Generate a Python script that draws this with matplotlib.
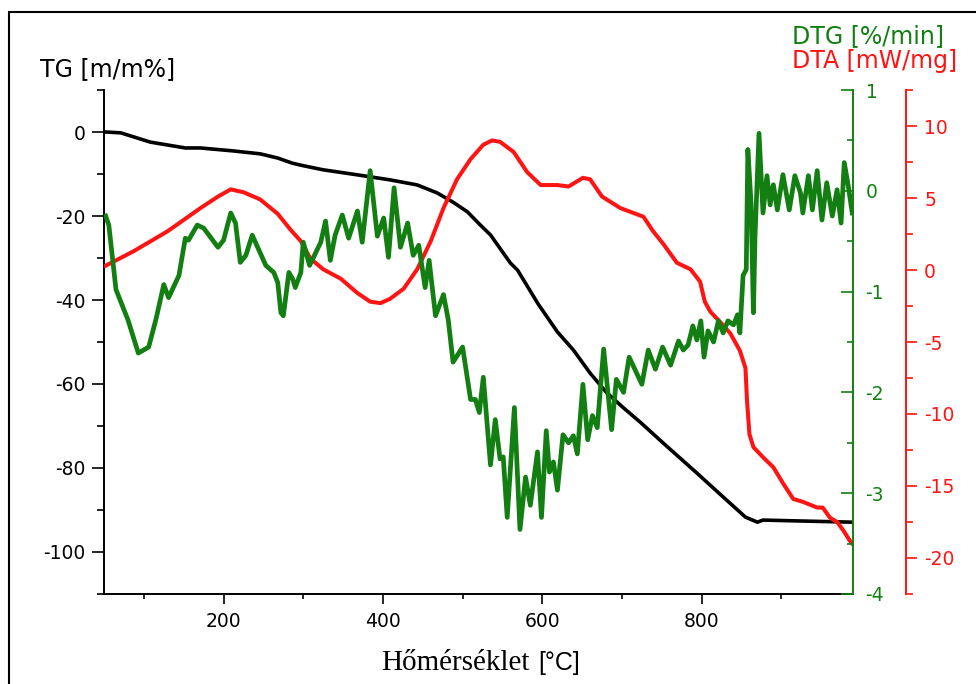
import matplotlib.pyplot as plt
from matplotlib.ticker import MultipleLocator
from matplotlib.patches import Rectangle

plt.rcParams['axes.unicode_minus'] = False
plt.rcParams['font.family'] = 'DejaVu Sans'

# TG curve (mass change, m/m%)
tg_temp = [52, 71, 108, 130, 152, 171, 212, 246, 268, 286, 297, 325, 368, 409,
           443, 468, 488, 506, 522, 535, 560, 569, 595, 619, 639, 660, 681, 702,
           723, 752, 794, 827, 855, 870, 877, 920, 989]
tg_mass = [0, -0.2, -2.4, -3.1, -3.8, -3.8, -4.5, -5.2, -6.2, -7.4, -7.9, -9.0,
           -10.2, -11.4, -12.6, -14.5, -16.7, -19.0, -22.1, -24.5, -31.2, -32.9,
           -41.0, -47.6, -51.9, -57.4, -62.1, -65.7, -69.1, -74.1, -81.2, -86.9,
           -91.7, -92.9, -92.4, -92.6, -92.9]

# DTA curve (mW/mg)
dta_temp = [52, 87, 130, 171, 193, 209, 225, 246, 268, 284, 297, 309, 325, 347,
            368, 384, 397, 409, 426, 443, 460, 476, 493, 510, 526, 537, 547, 564,
            581, 598, 619, 633, 651, 660, 675, 698, 727, 739, 752, 769, 786, 798,
            804, 811, 823, 836, 848, 855, 857, 860, 865, 877, 890, 902, 915, 927,
            936, 945, 952, 961, 970, 978, 986, 989]
dta_val = [0.3, 1.3, 2.7, 4.3, 5.1, 5.6, 5.4, 4.9, 3.9, 2.8, 2.0, 0.8, 0.05, -0.6,
           -1.6, -2.2, -2.3, -2.0, -1.3, 0.05, 2.0, 4.3, 6.3, 7.7, 8.7, 9.0, 8.9,
           8.2, 6.8, 5.9, 5.9, 5.8, 6.4, 6.3, 5.1, 4.3, 3.7, 2.7, 1.8, 0.5, 0.05,
           -0.8, -2.2, -2.9, -3.6, -4.4, -5.6, -6.8, -9.1, -11.4, -12.3, -13.0,
           -13.7, -14.8, -15.9, -16.1, -16.3, -16.5, -16.5, -17.2, -17.5, -18.1,
           -18.8, -19.0]

# DTG curve (%/min)
dtg_temp = [52, 56, 65, 80, 93, 106, 115, 125, 131, 144, 152, 156, 167, 175,
            193, 200, 209, 215, 221, 228, 236, 244, 253, 263, 268, 272, 275, 282,
            287, 290, 297, 300, 308, 322, 328, 334, 340, 349, 357, 368, 374, 384,
            393, 401, 407, 414, 422, 431, 438, 445, 453, 458, 466, 476, 482, 488,
            500, 510, 516, 521, 526, 535, 541, 547, 551, 556, 565, 572, 579, 585,
            594, 599, 605, 609, 614, 619, 626, 633, 639, 644, 651, 657, 663, 669,
            677, 687, 693, 702, 709, 725, 733, 742, 751, 761, 771, 777, 783, 789,
            794, 799, 803, 808, 815, 821, 827, 833, 840, 845, 848, 852, 856, 858,
            862, 865, 867, 872, 877, 882, 886, 890, 895, 902, 910, 917, 924, 927,
            934, 939, 945, 951, 957, 964, 970, 975, 979, 984, 989]
dtg_val = [-0.25, -0.34, -0.98, -1.28, -1.61, -1.55, -1.28, -0.93, -1.06, -0.84,
           -0.47, -0.49, -0.34, -0.37, -0.56, -0.49, -0.22, -0.32, -0.71, -0.64,
           -0.44, -0.58, -0.74, -0.81, -0.91, -1.21, -1.24, -0.81, -0.88, -0.96,
           -0.81, -0.51, -0.74, -0.51, -0.30, -0.69, -0.44, -0.24, -0.47, -0.20,
           -0.51, 0.20, -0.45, -0.27, -0.66, 0.03, -0.56, -0.32, -0.64, -0.54,
           -0.96, -0.69, -1.24, -1.03, -1.28, -1.70, -1.55, -2.07, -2.07, -2.20,
           -1.85, -2.72, -2.27, -2.66, -2.64, -3.24, -2.15, -3.36, -2.84, -3.12,
           -2.59, -3.24, -2.38, -2.79, -2.69, -2.97, -2.42, -2.50, -2.43, -2.61,
           -1.92, -2.47, -2.23, -2.35, -1.57, -2.37, -1.87, -2.00, -1.65, -1.92,
           -1.58, -1.77, -1.55, -1.73, -1.49, -1.58, -1.53, -1.34, -1.48, -1.29,
           -1.65, -1.39, -1.50, -1.29, -1.41, -1.29, -1.33, -1.23, -1.41, -0.84,
           -0.78, 0.41, -0.12, -1.21, -0.45, 0.57, -0.22, 0.15, -0.14, 0.06,
           -0.19, 0.16, -0.19, 0.15, -0.02, -0.22, 0.15, -0.19, 0.20, -0.29,
           0.08, -0.25, 0.01, -0.32, 0.28, 0.05, -0.22]

green = '#137f13'
red = '#ff1414'

fig = plt.figure(figsize=(9.76, 6.84), dpi=100)
ax = fig.add_axes([0.1066, 0.1316, 0.7674, 0.7368])
ax_dta = ax.twinx()
ax_dtg = ax.twinx()

ax.plot(tg_temp, tg_mass, color='black', lw=2.6, solid_joinstyle='round')
ax_dta.plot(dta_temp, dta_val, color=red, lw=2.9, solid_joinstyle='round')
ax_dtg.plot(dtg_temp, dtg_val, color=green, lw=3.4, solid_joinstyle='round')

# main axis (TG)
ax.set_xlim(50, 990)
ax.set_ylim(-110, 10)
ax.spines[['top', 'right']].set_visible(False)
for s in ['left', 'bottom']:
    ax.spines[s].set_linewidth(1.4)
ax.xaxis.set_major_locator(MultipleLocator(200))
ax.xaxis.set_minor_locator(MultipleLocator(100))
ax.yaxis.set_major_locator(MultipleLocator(20))
ax.yaxis.set_minor_locator(MultipleLocator(10))
ax.tick_params(axis='both', which='major', direction='out', width=1.2,
               labelsize=13.5)
ax.tick_params(axis='y', which='major', length=8.5, pad=5)
ax.tick_params(axis='y', which='minor', length=5, width=1.2)
ax.tick_params(axis='x', which='major', length=7, pad=6)
ax.tick_params(axis='x', which='minor', length=3.6, width=1.2)

# DTA axis, offset to the right
ax_dta.set_ylim(-22.5, 12.5)
for s in ['left', 'top', 'bottom']:
    ax_dta.spines[s].set_visible(False)
ax_dta.spines['right'].set_position(('axes', 1.0708))
ax_dta.spines['right'].set_color(red)
ax_dta.spines['right'].set_linewidth(1.4)
ax_dta.yaxis.set_major_locator(MultipleLocator(5))
ax_dta.yaxis.set_minor_locator(MultipleLocator(2.5))
ax_dta.tick_params(axis='y', which='both', direction='out', colors=red,
                   width=1.2, labelsize=13.5)
ax_dta.tick_params(axis='y', which='major', length=8, pad=5)
ax_dta.tick_params(axis='y', which='minor', length=5)

# DTG axis
ax_dtg.set_ylim(-4, 1)
for s in ['left', 'top', 'bottom']:
    ax_dtg.spines[s].set_visible(False)
ax_dtg.spines['right'].set_color(green)
ax_dtg.spines['right'].set_linewidth(1.4)
ax_dtg.yaxis.set_major_locator(MultipleLocator(1))
ax_dtg.yaxis.set_minor_locator(MultipleLocator(0.5))
ax_dtg.tick_params(axis='y', which='both', direction='in', colors=green,
                   width=1.2, labelsize=13.5)
ax_dtg.tick_params(axis='y', which='major', length=8.5, pad=9)
ax_dtg.tick_params(axis='y', which='minor', length=4.5)

# axis titles
fig.text(40 / 976, 1 - 76 / 684, 'TG [m/m%]', fontsize=17, va='baseline')
fig.text(792 / 976, 1 - 43 / 684, 'DTG [%/min]', fontsize=17, color=green,
         va='baseline')
fig.text(792 / 976, 1 - 68 / 684, 'DTA [mW/mg]', fontsize=17, color=red,
         va='baseline')
fig.text(381 / 976, 1 - 670 / 684, 'Hőmérséklet', fontsize=21,
         family='Liberation Serif', va='baseline')
fig.text(538 / 976, 1 - 670 / 684, '[°C]', fontsize=18,
         family='Liberation Sans', va='baseline')

# frame around the figure
fig.add_artist(Rectangle((9 / 976, -0.2), 1.2, 1.2 - 12 / 684,
                         transform=fig.transFigure, fill=False,
                         edgecolor='black', lw=1.5, clip_on=False))

fig.savefig('out.png', dpi=100)
